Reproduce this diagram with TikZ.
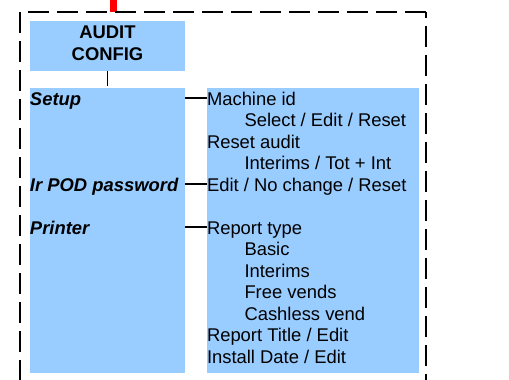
\documentclass[tikz,border=0pt]{standalone}
\usepackage{fontspec}
\setmainfont{Liberation Sans}
\definecolor{boxblue}{RGB}{153,204,255}
\begin{document}
\begin{tikzpicture}[x=1pt,y=-1pt,
  font=\fontsize{18.4}{21.5}\selectfont,
  box/.style={fill=boxblue, draw=none, anchor=north west, inner sep=0pt, outer sep=0pt},
  txt/.style={anchor=base west, inner sep=0pt, outer sep=0pt},
  lab/.style={txt, font=\fontsize{18.4}{21.5}\selectfont\bfseries\itshape},
  frameline/.style={line width=2.7pt, dash pattern=on 21pt off 8pt},
  conn/.style={line width=1.5pt}]
\useasboundingbox (0,0) rectangle (509,380);
% red marker
\fill[red] (110,0) rectangle (117,12);
% dashed frame
\draw[frameline] (20,12) -- (20,382);
\draw[frameline, dash phase=21pt] (20,12) -- (426,12);
\draw[frameline, dash phase=15pt] (426,12) -- (426,382);
% boxes
\node[box, minimum width=155pt, minimum height=50pt] (audit) at (30,21) {};
\node[anchor=base, align=center, inner sep=0pt, font=\fontsize{18.4}{22}\selectfont\bfseries] (audittxt) at (107.5,60) {AUDIT\\CONFIG};
\node[box, minimum width=155pt, minimum height=285pt] (lbox) at (30,88) {};
\node[box, minimum width=212pt, minimum height=285pt] (rbox) at (207,88) {};
% left labels
\node[lab] (setup) at (30,105) {Setup};
\node[lab] (irpod) at (30,191) {Ir POD password};
\node[lab] (printer) at (30,234) {Printer};
% right text
\node[txt] (mach) at (207,105) {Machine id};
\node[txt] (sel) at (244.5,126.5) {Select / Edit / Reset};
\node[txt] (reset) at (207,148) {Reset audit};
\node[txt] (inter) at (244.5,169.5) {Interims / Tot + Int};
\node[txt] (edit) at (207,191) {Edit / No change / Reset};
\node[txt] (rtype) at (207,234) {Report type};
\node[txt] (basic) at (244.5,255.5) {Basic};
\node[txt] (interims) at (244.5,277) {Interims};
\node[txt] (free) at (244.5,298.5) {Free vends};
\node[txt] (cash) at (244.5,320) {Cashless vend};
\node[txt] (rtitle) at (207,341.5) {Report Title / Edit};
\node[txt] (inst) at (207,363) {Install Date / Edit};
% connectors
\draw[conn] (audit.south) -- ([yshift=2pt]lbox.north -| audit.south);
\draw[conn] ([yshift=7pt]lbox.east |- mach.base) -- ([yshift=7pt]mach.base west);
\draw[conn] ([yshift=7pt]lbox.east |- edit.base) -- ([yshift=7pt]edit.base west);
\draw[conn] ([yshift=7pt]lbox.east |- rtype.base) -- ([yshift=7pt]rtype.base west);
\end{tikzpicture}
\end{document}
